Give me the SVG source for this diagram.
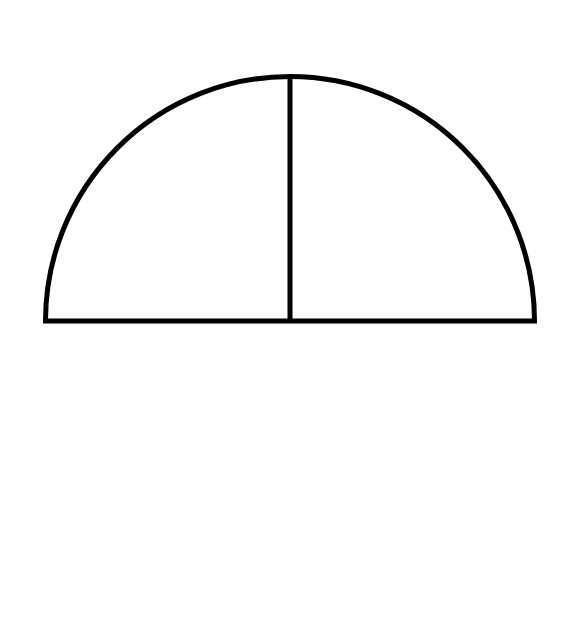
<svg xmlns="http://www.w3.org/2000/svg" width="585" height="640" viewBox="0 0 585 640">
<style>.s{fill:none;stroke:#000;stroke-width:5;stroke-linejoin:miter}</style>
<rect width="585" height="640" fill="#fff"/>
<g id="semicircle">
<path class="s" d="M45.5 321 A244.5 244.5 0 0 1 534.5 321 Z"/>
</g>
<g id="connectors">
<line class="s" x1="290" y1="76" x2="290" y2="321"/>
</g>
</svg>
